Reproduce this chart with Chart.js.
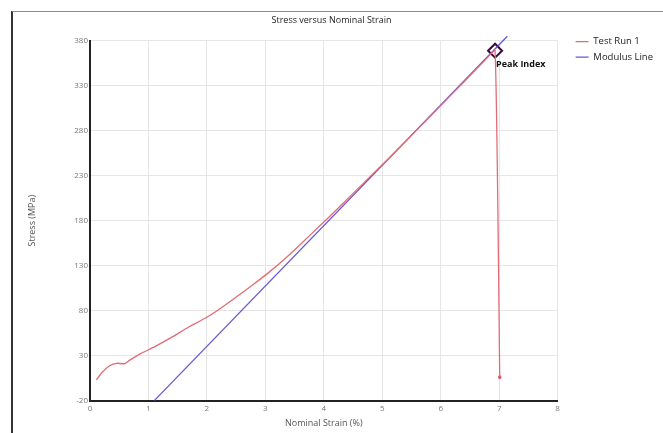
<!DOCTYPE html>
<html>
<head>
<meta charset="utf-8">
<script src="https://cdn.jsdelivr.net/npm/chart.js@4.4.0/dist/chart.umd.min.js"></script>
<style>
html, body { margin: 0; padding: 0; background: #fff; }
#wrap { position: relative; width: 663px; height: 433px; overflow: hidden; }
#chart { position: absolute; left: 0; top: 0; }
#frame { position: absolute; left: 11px; top: 11px; right: -2px; bottom: -2px;
         border-left: 2px solid #333; border-top: 1px solid #8c8c8c; pointer-events: none; }
</style>
</head>
<body>
<div id="wrap">
  <canvas id="chart" width="663" height="433"></canvas>
  <div id="frame"></div>
</div>
<script>
// Test Run 1 (strain %, stress MPa)
const runStrain = [0.11, 0.2, 0.34, 0.46, 0.59, 0.68, 0.86, 1.11, 1.40, 1.68, 1.97, 2.20, 2.48, 2.77,
    3.05, 3.34, 3.62, 3.91, 4.20, 4.48, 4.8, 5.2, 5.6, 6.0, 6.4, 6.76, 6.93, 7.01];
const runStress = [3, 11, 19, 21.5, 21, 25, 32, 40, 50.5, 61.5, 71.5, 81, 94, 108,
    122, 138, 155, 173, 191, 209, 229.5, 255, 281.5, 308, 334.5, 358.5, 369, 6];

// Modulus line end points
const modulusStrain = [1.1, 7.14];
const modulusStress = [-20, 385];

// peak marker
const peakStrain = [6.93];
const peakStress = [369];
const peakLabel = 'Peak Index';

const xMin = 0, xMax = 8, xStep = 1;
const yMin = -20, yMax = 380, yStep = 50;

const toPoints = (xs, ys) => xs.map((x, i) => ({ x: x, y: ys[i] }));

const FONT = '"Open Sans", "DejaVu Sans", sans-serif';

// writes the "Peak Index" text next to the marker
const peakText = {
    id: 'peakText',
    afterDatasetsDraw(chart) {
        const meta = chart.getDatasetMeta(2);
        const ctx = chart.ctx;
        meta.data.forEach(function (pt) {
            ctx.save();
            ctx.font = 'bold 9px ' + FONT;
            ctx.fillStyle = '#111';
            ctx.textBaseline = 'middle';
            ctx.fillText(peakLabel, pt.x + 1, pt.y + 14);
            ctx.restore();
        });
    }
};

const data = {
    datasets: [{
        label: 'Test Run 1',
        data: toPoints(runStrain, runStress),
        showLine: true,
        borderColor: 'rgb(226, 108, 118)',
        backgroundColor: 'rgb(226, 108, 118)',
        borderWidth: 1.3,
        pointRadius: runStrain.map((v, i) => i === runStrain.length - 1 ? 1.2 : 0),
        pointBackgroundColor: 'rgb(150, 30, 40)',
        pointBorderColor: 'rgb(226, 108, 118)',
        pointBorderWidth: 1.3,
        tension: 0.15
    },
    {
        label: 'Modulus Line',
        data: toPoints(modulusStrain, modulusStress),
        showLine: true,
        borderColor: 'rgba(85, 70, 205, 0.9)',
        backgroundColor: 'rgb(85, 70, 205)',
        borderWidth: 1.3,
        pointRadius: 0,
        pointBorderColor: 'rgba(85, 70, 205, 0.9)',
        pointBorderWidth: 1.3,
        clip: false
    },
    {
        label: 'Peak',
        data: toPoints(peakStrain, peakStress),
        showLine: false,
        pointStyle: 'rectRot',
        pointRadius: 7,
        pointBorderWidth: 2,
        pointBorderColor: '#3a0a3e',
        pointBackgroundColor: 'rgba(0,0,0,0)'
    }]
};

const config = {
    type: 'scatter',
    data: data,
    options: {
        responsive: false,
        animation: false,
        layout: {
            padding: { left: 0, right: 0, top: 0, bottom: 4 }
        },
        plugins: {
            title: {
                display: true,
                text: 'Stress versus Nominal Strain',
                color: '#222',
                font: { family: FONT, size: 9, weight: 'normal' },
                padding: { top: 15, bottom: 15 }
            },
            legend: {
                position: 'right',
                align: 'start',
                title: {
                    display: true,
                    text: ' ',
                    font: { family: FONT, size: 9 },
                    padding: { top: 20, bottom: 0 }
                },
                labels: {
                    color: '#222',
                    font: { family: FONT, size: 9.5 },
                    usePointStyle: true,
                    pointStyle: 'line',
                    pointStyleWidth: 13,
                    boxWidth: 13,
                    padding: 6,
                    filter: item => item.datasetIndex < 2
                }
            },
            tooltip: { enabled: false }
        },
        scales: {
            x: {
                type: 'linear',
                min: xMin,
                max: xMax,
                ticks: { stepSize: xStep, color: '#777', font: { family: FONT, size: 8 }, padding: 3 },
                grid: { color: '#e6e6e6', drawTicks: false },
                border: { color: '#222', width: 2 },
                title: {
                    display: true,
                    text: 'Nominal Strain (%)',
                    color: '#555',
                    font: { family: FONT, size: 9 },
                    padding: { top: 2, bottom: 0 }
                }
            },
            y: {
                type: 'linear',
                min: yMin,
                max: yMax,
                ticks: { stepSize: yStep, color: '#777', font: { family: FONT, size: 8 }, padding: 2 },
                grid: { color: '#e6e6e6', drawTicks: false },
                border: { color: '#222', width: 2 },
                title: {
                    display: true,
                    text: 'Stress (MPa)',
                    color: '#555',
                    font: { family: FONT, size: 9 },
                    padding: { top: 27, bottom: 0 }
                },
                afterFit(scale) { scale.width = 90; }
            },
            // empty right-hand box that keeps a gap before the legend
            gap: {
                type: 'linear',
                position: 'right',
                ticks: { display: false },
                grid: { display: false, drawTicks: false },
                border: { display: false },
                afterFit(scale) { scale.width = 12; }
            }
        }
    },
    plugins: [peakText]
};

const stressChart = new Chart(document.getElementById('chart'), config);
</script>
</body>
</html>
